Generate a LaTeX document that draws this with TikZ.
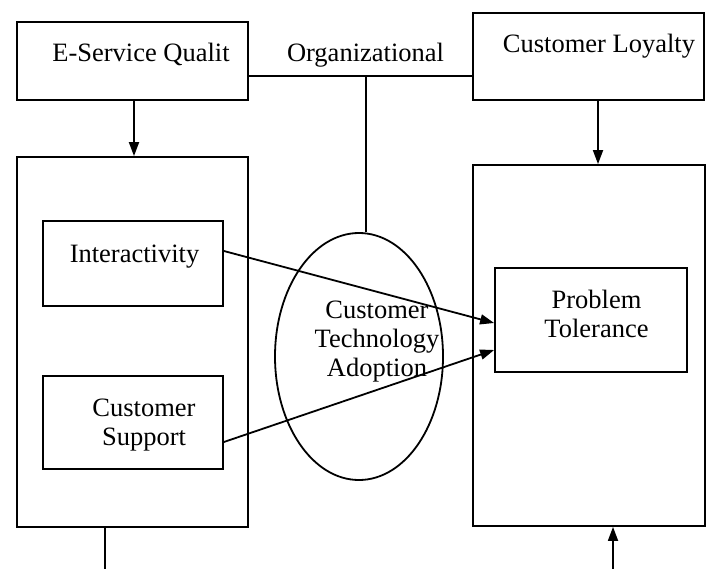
\documentclass[tikz,border=0pt]{standalone}
\usepackage{fontspec}
\setmainfont{Liberation Serif}
\usetikzlibrary{shapes,arrows,positioning,calc,arrows.meta}

\begin{document}
\begin{tikzpicture}[x=1pt, y=-1pt, line width=1.8pt,
    box/.style={draw, rectangle, inner sep=0pt},
    lbl/.style={font=\fontsize{26.5}{29}\selectfont, inner sep=0pt, align=center},
    arr/.style={-{Triangle[length=14pt, width=10pt]}}]
    \useasboundingbox (0,0) rectangle (708,569);

    % top boxes
    \node[box, minimum width=231pt, minimum height=78pt] (eq) at (132.5,61) {};
    \node[box, minimum width=231pt, minimum height=87pt] (cl) at (588.5,56.5) {};
    \node[lbl, anchor=base] (eqtxt) at (141,62) {E-Service Qualit};
    \node[lbl, anchor=base] (cltxt) at (599,53) {Customer Loyalty};
    \node[lbl, anchor=base] (org) at (365.5,62) {Organizational};

    % big boxes
    \node[box, minimum width=231pt, minimum height=370pt] (left) at (132.5,342) {};
    \node[box, minimum width=232pt, minimum height=361pt] (right) at (589,345.5) {};

    \node[box, minimum width=180pt, minimum height=85pt] (inter) at (133,263.5) {};
    \node[box, minimum width=180pt, minimum height=93pt] (supp) at (133,422.5) {};
    \node[box, minimum width=192pt, minimum height=104pt] (prob) at (591,320) {};
    \node[lbl, anchor=base] (intertxt) at (134.5,262) {Interactivity};
    \node[lbl] (supptxt) at (144,425) {Customer\\Support};
    \node[lbl] (probtxt) at (596.5,314) {Problem\\Tolerance};

    \node[draw, ellipse, minimum width=168pt, minimum height=247pt, inner sep=0pt] (cta) at (359,356.5) {};
    \node[lbl] (ctatxt) at (377,342) {Customer\\Technology\\Adoption};

    % connectors
    \coordinate (j) at (366,76);
    \coordinate (lo) at (105,569);
    \coordinate (ro) at (613,569);
    \draw (eq.east |- j) -- (cl.west |- j);
    \draw (j) -- (j |- cta.north);
    \draw[arr] (eq.south -| 134,0) -- (left.north -| 134,0);
    \draw[arr] (cl.south -| 598,0) -- (right.north -| 598,0);
    \draw[arr] ([yshift=12.5pt]inter.east) -- ([yshift=-3pt]prob.west);
    \draw[arr] ([yshift=-19.5pt]supp.east) -- ([yshift=-30pt]prob.west);
    \draw (left.south -| lo) -- (lo);
    \draw[arr] (ro) -- (right.south -| ro);
\end{tikzpicture}
\end{document}
